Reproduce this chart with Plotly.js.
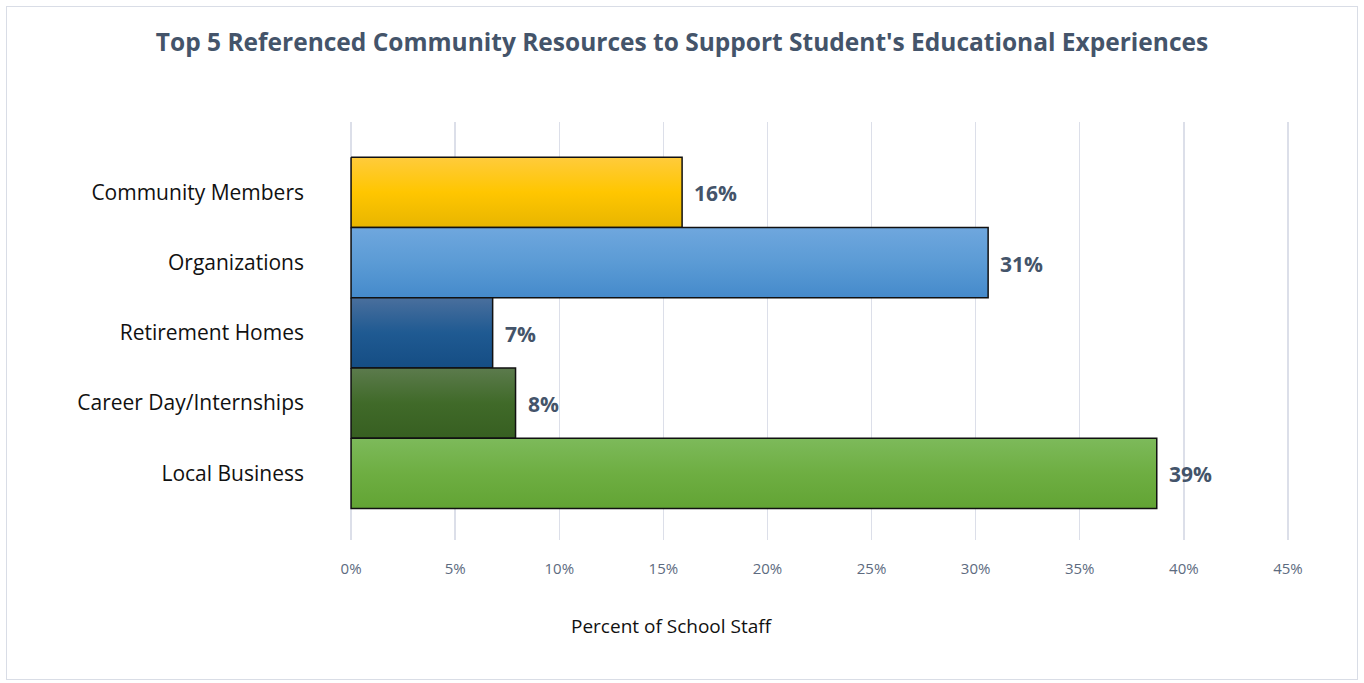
<!DOCTYPE html>
<html>
<head>
<meta charset="utf-8">
<script src="https://cdn.plot.ly/plotly-3.0.1.min.js"></script>
<style>
html,body{margin:0;padding:0;background:#fff;}
#chart{width:1364px;height:683px;}
#frame{position:absolute;left:6px;top:6px;width:1350px;height:672px;border:1px solid #d9dde6;pointer-events:none;}
</style>
</head>
<body>
<div id="chart"></div>
<div id="frame"></div>
<script>
const categories = ["Community Members", "Organizations", "Retirement Homes", "Career Day/Internships", "Local Business"];
const values = [15.9, 30.6, 6.8, 7.9, 38.7];
const labels = ["16%", "31%", "7%", "8%", "39%"];
// gradient colours per bar: [top, middle, bottom]
const gradients = [
  ["#ffcb3c", "#ffc600", "#e8b500"],
  ["#6fa7de", "#5b9bd5", "#458acb"],
  ["#4a6f9d", "#1f5a92", "#154d84"],
  ["#5c7b4d", "#406a29", "#375f21"],
  ["#7dba5b", "#6eae42", "#62a434"]
];
const tickVals = [0, 5, 10, 15, 20, 25, 30, 35, 40, 45];
const tickText = ["0%", "5%", "10%", "15%", "20%", "25%", "30%", "35%", "40%", "45%"];

const idx = categories.map((c, i) => i);

const traces = categories.map((c, i) => ({
  type: "scatter",
  mode: "lines",
  name: c,
  x: [0, values[i], values[i], 0, 0],
  y: [i - 0.5, i - 0.5, i + 0.5, i + 0.5, i - 0.5],
  fill: "toself",
  fillgradient: {
    type: "vertical",
    start: i + 0.5, stop: i - 0.5,
    colorscale: [[0, gradients[i][2]], [0.5, gradients[i][1]], [1, gradients[i][0]]]
  },
  line: {color: "#111111", width: 1.5},
  hoverinfo: "none",
  cliponaxis: false
}));

const annotations = categories.map((c, i) => ({
  x: values[i], y: i, xref: "x", yref: "y",
  text: labels[i], showarrow: false, xanchor: "left", xshift: 10, yshift: -1,
  font: {family: "Open Sans, sans-serif", size: 21, color: "#44546a", weight: "bold"}
}));
annotations.push({
  text: "Percent of School Staff", xref: "paper", yref: "paper",
  x: 0.343, y: -0.206, xanchor: "center", yanchor: "middle", showarrow: false,
  font: {family: "Open Sans, sans-serif", size: 19, color: "#111111"}
});

const layout = {
  width: 1364, height: 683,
  margin: {l: 349, r: 74, t: 122, b: 143},
  paper_bgcolor: "#ffffff", plot_bgcolor: "#ffffff",
  showlegend: false,
  title: {
    text: "<b>Top 5 Referenced Community Resources to Support Student's Educational Experiences</b>",
    x: 0.5, xanchor: "center", y: 0.938, yanchor: "middle",
    font: {family: "Open Sans, sans-serif", size: 24.5, color: "#44546a"}
  },
  xaxis: {
    range: [-0.1, 45.1], tickvals: tickVals, ticktext: tickText,
    showgrid: true, gridcolor: "#dcdfe9", gridwidth: 1.5,
    zeroline: false, showline: false, ticks: "",
    tickfont: {family: "Open Sans, sans-serif", size: 15, color: "#5d6b80"},
    ticklabelstandoff: 18,
    fixedrange: true
  },
  yaxis: {
    range: [4.95, -1.0],
    tickvals: idx, ticktext: categories,
    showgrid: false, zeroline: false, showline: false, ticks: "",
    ticklabelstandoff: 44,
    tickfont: {family: "Open Sans, sans-serif", size: 21, color: "#111111"},
    fixedrange: true
  },
  annotations: annotations
};

Plotly.newPlot("chart", traces, layout, {staticPlot: true, displayModeBar: false});
</script>
</body>
</html>
